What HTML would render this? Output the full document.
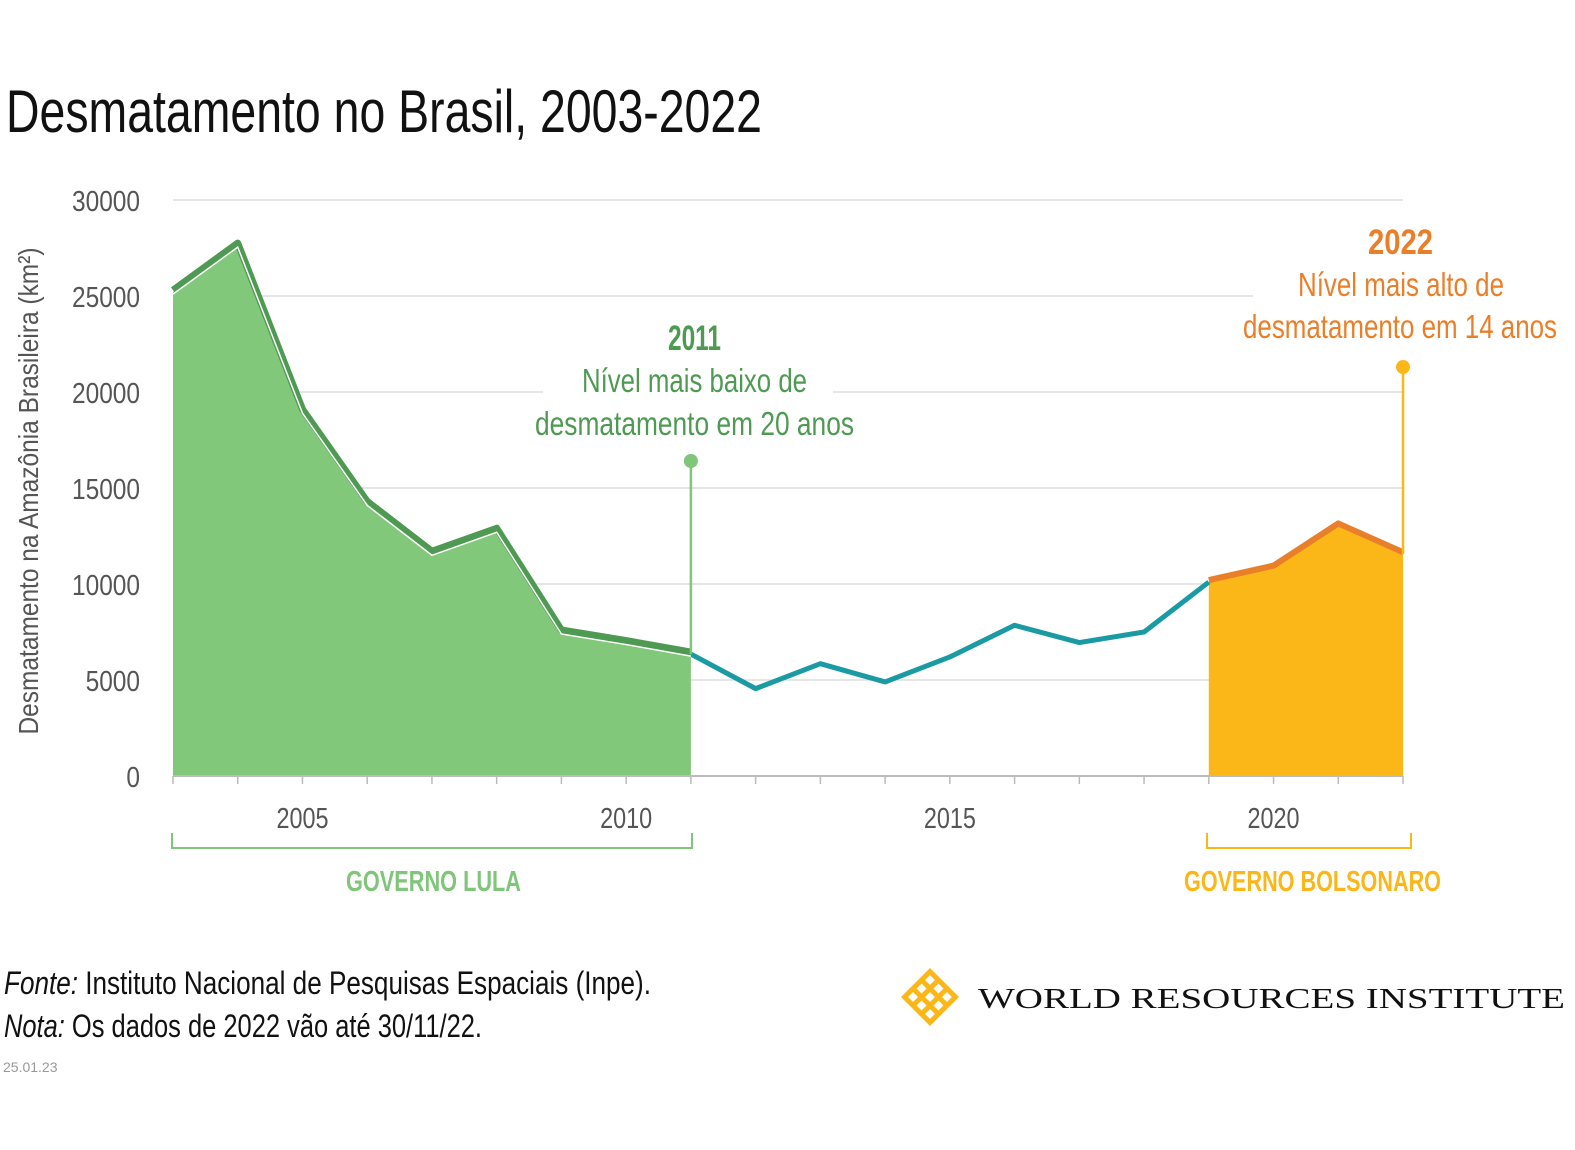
<!DOCTYPE html>
<html><head><meta charset="utf-8"><style>
html,body{margin:0;padding:0;background:#fff;overflow:hidden;width:1575px;height:1150px;}
svg{display:block;}
svg text{font-family:"Liberation Sans",sans-serif;}
</style></head><body>
<svg width="1575" height="1150" viewBox="0 0 1575 1150" xmlns="http://www.w3.org/2000/svg">
<text x="6" y="132" font-size="60" textLength="756" lengthAdjust="spacingAndGlyphs" fill="#111">Desmatamento no Brasil, 2003-2022</text>
<g id="grid"></g>
<g id="ylabels"></g>
<text transform="translate(38,491) rotate(-90)" text-anchor="middle" font-size="28" textLength="487" lengthAdjust="spacingAndGlyphs" fill="#555">Desmatamento na Amazônia Brasileira (km²)</text>
<g id="areas"></g>
<g id="lines"></g>
<g id="xaxis"></g>
<g id="annot"></g>
<path d="M172,833 V848 H692 V833" fill="none" stroke="#7fc57a" stroke-width="2"/>
<text x="346" y="891" font-size="29" textLength="175" lengthAdjust="spacingAndGlyphs" font-weight="bold" fill="#7fc57a">GOVERNO LULA</text>
<path d="M1207,833 V848 H1411 V833" fill="none" stroke="#fbb718" stroke-width="2"/>
<text x="1184" y="891" font-size="29" textLength="257" lengthAdjust="spacingAndGlyphs" font-weight="bold" fill="#fbb718">GOVERNO BOLSONARO</text>
<text x="4" y="994" font-size="32" textLength="647" lengthAdjust="spacingAndGlyphs" fill="#111"><tspan font-style="italic">Fonte:</tspan> Instituto Nacional de Pesquisas Espaciais (Inpe).</text>
<text x="4" y="1037" font-size="32" textLength="478" lengthAdjust="spacingAndGlyphs" fill="#111"><tspan font-style="italic">Nota:</tspan> Os dados de 2022 vão até 30/11/22.</text>
<text x="3" y="1072" font-size="14" fill="#999">25.01.23</text>
<g transform="translate(930,997) rotate(45)">
<g fill="none" stroke="#fbb718" stroke-width="5">
<rect x="-18" y="-18" width="36" height="36"/><line x1="-18" y1="-6" x2="18" y2="-6"/><line x1="-18" y1="6" x2="18" y2="6"/><line x1="-6" y1="-18" x2="-6" y2="18"/><line x1="6" y1="-18" x2="6" y2="18"/>
</g></g>
<text x="978" y="1008" font-size="29" style="font-family:'Liberation Serif',serif" textLength="587" lengthAdjust="spacingAndGlyphs" fill="#111">WORLD RESOURCES INSTITUTE</text>
<script>
const years=[2003,2004,2005,2006,2007,2008,2009,2010,2011,2012,2013,2014,2015,2016,2017,2018,2019,2020,2021,2022];
const values=[25200,27650,19000,14200,11600,12800,7500,6950,6350,4550,5850,4900,6200,7850,6950,7500,10100,10850,13050,11550];
const yTicks=[0,5000,10000,15000,20000,25000,30000];
const xTicks=[2005,2010,2015,2020];
const NS="http://www.w3.org/2000/svg";
const x=yr=>173+(yr-2003)*(1230/19);
const y=v=>776-v*576/30000;
function mk(tag,attrs,parent){const e=document.createElementNS(NS,tag);for(const k in attrs)e.setAttribute(k,attrs[k]);document.getElementById(parent).appendChild(e);return e;}
yTicks.forEach(t=>{
 if(t>0){const g=mk('line',{x1:173,x2:t===25000?1253:1403,y1:y(t),y2:y(t),stroke:'#d8d8d8','stroke-width':1.2},'grid');
 
 }
 const s=String(t);
 const l=mk('text',{x:140,y:y(t)+11,'text-anchor':'end','font-size':29,fill:'#555',textLength:s.length*13.6,lengthAdjust:'spacingAndGlyphs'},'ylabels');l.textContent=s;
 
 
});
function seg(a,b){let p=[];for(let i=a;i<=b;i++)p.push(x(years[i])+','+y(values[i]));return p;}
const g1=seg(0,8),o1=seg(16,19);
const ga=mk('polygon',{points:g1.join(' ')+' '+x(2011)+','+y(0)+' '+x(2003)+','+y(0),fill:'#82c87a'},'areas');


const oa=mk('polygon',{points:o1.join(' ')+' '+x(2022)+','+y(0)+' '+x(2019)+','+y(0),fill:'#fbb718'},'areas');


const tl=mk('polyline',{points:seg(8,16).join(' '),fill:'none',stroke:'#1a9aa3','stroke-width':5,'stroke-linejoin':'round'},'lines');


const gl=mk('polyline',{points:g1.join(' '),fill:'none',stroke:'#4e9a52','stroke-width':7,'stroke-linejoin':'round',transform:'translate(0,-2)'},'lines');


const gw=mk('polyline',{points:g1.join(' '),fill:'none',stroke:'#fff','stroke-width':1.5,transform:'translate(0,2)'},'lines');


const ol=mk('polyline',{points:o1.join(' '),fill:'none',stroke:'#ea7f2a','stroke-width':6,'stroke-linejoin':'round',transform:'translate(0,-2)'},'lines');


const ax=mk('line',{x1:173,x2:1403,y1:776,y2:776,stroke:'#bbb','stroke-width':2},'xaxis');


years.forEach(yr=>{const t=mk('line',{x1:x(yr),x2:x(yr),y1:776,y2:784,stroke:'#bbb','stroke-width':1.5},'xaxis');
 
 });
xTicks.forEach(yr=>{const t=mk('text',{x:x(yr),y:828,'text-anchor':'middle','font-size':29,fill:'#555',textLength:52,lengthAdjust:'spacingAndGlyphs'},'xaxis');t.textContent=yr;
 
 });
const i11=years.indexOf(2011),i22=years.indexOf(2022);
const a1=mk('line',{x1:x(2011),x2:x(2011),y1:461,y2:y(values[i11]),stroke:'#7fc57a','stroke-width':2.5},'annot');


const d1=mk('circle',{cx:x(2011),cy:461,r:7,fill:'#7fc57a'},'annot');


const a2=mk('line',{x1:x(2022),x2:x(2022),y1:367,y2:y(values[i22]),stroke:'#fbb718','stroke-width':2.5},'annot');


const d2=mk('circle',{cx:x(2022),cy:367,r:7,fill:'#fbb718'},'annot');


function txt(s,xx,yy,fs,fill,bold,w,name){const t=mk('text',{x:xx,y:yy,'font-size':fs,fill:fill,'font-weight':bold?'bold':'normal',textLength:w,lengthAdjust:'spacingAndGlyphs'},'annot');t.textContent=s;
 
 }
const bg=mk('rect',{x:543,y:355,width:290,height:40,fill:'#fff'},'annot');


txt('2011',668,350,35,'#4e9a52',true,53,'annotation-2011-year');
txt('Nível mais baixo de',582,392,33,'#4e9a52',false,225,'annotation-2011-text');
txt('desmatamento em 20 anos',535,435,33,'#4e9a52',false,319,'annotation-2011-text');
txt('2022',1368,254,35,'#ea7f2a',true,65,'annotation-2022-year');
txt('Nível mais alto de',1298,296,33,'#ea7f2a',false,206,'annotation-2022-text');
txt('desmatamento em 14 anos',1243,338,33,'#ea7f2a',false,314,'annotation-2022-text');
</script>
</svg>
</body></html>
